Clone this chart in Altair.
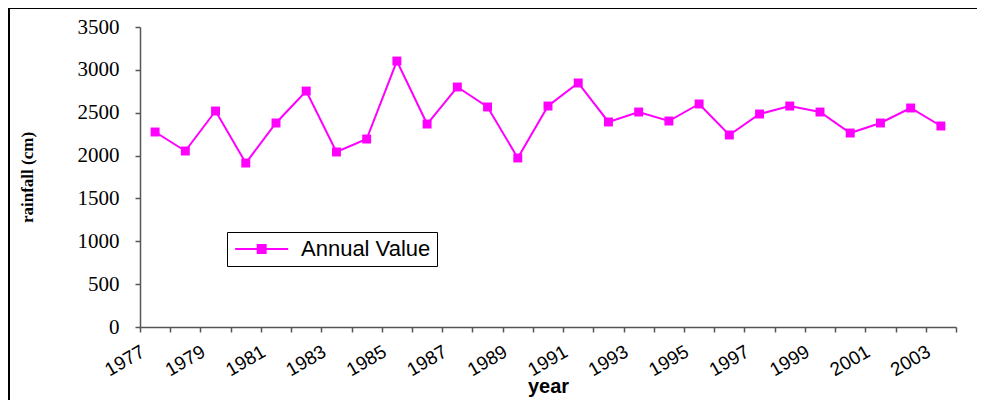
import altair as alt
import pandas as pd

years = [str(y) for y in range(1977, 2004)]
rainfall = [2275, 2053, 2520, 1913, 2380, 2753, 2042, 2193, 3103, 2368,
            2800, 2567, 1972, 2578, 2847, 2392, 2508, 2403, 2602, 2240,
            2485, 2578, 2508, 2263, 2380, 2555, 2345]
series = ["Annual Value"] * len(years)
y_ticks = [0, 500, 1000, 1500, 2000, 2500, 3000, 3500]

df = pd.DataFrame({"year": years, "rainfall": rainfall, "series": series})

W, H = 816, 300
MAGENTA = "#FF00FF"

x_enc = alt.X(
    "year:O",
    scale=alt.Scale(type="band", paddingInner=0, paddingOuter=0),
    axis=alt.Axis(
        title="year", titleFont="Liberation Sans", titleFontSize=20,
        titleFontWeight="bold", titleColor="black", titleY=65,
        titleBaseline="alphabetic",
        labelExpr="toNumber(datum.label) % 2 == 1 ? datum.label : ''",
        labelAngle=-30, labelAlign="right", labelBaseline="top",
        labelOffset=-17, labelPadding=10,
        labelFont="Liberation Sans", labelFontSize=19, labelColor="black",
        tickBand="extent", tickSize=5, tickColor="#555", domainColor="#555",
        domainWidth=1.5, tickWidth=1.5, grid=False,
    ),
)
y_enc = alt.Y(
    "rainfall:Q",
    scale=alt.Scale(domain=[0, 3500], nice=False),
    axis=alt.Axis(
        title="rainfall (cm)", titleFont="Liberation Serif", titleFontSize=17,
        titleFontWeight="bold", titleColor="black", titleX=-121,
        titleBaseline="top",
        values=y_ticks, format="d", labelFont="Liberation Serif",
        labelFontSize=21, labelColor="black", labelPadding=16, tickSize=5,
        tickColor="#555", domainColor="#555", domainWidth=1.5, tickWidth=1.5,
        grid=False,
    ),
)
color_enc = alt.Color(
    "series:N",
    scale=alt.Scale(domain=["Annual Value"], range=[MAGENTA]),
    legend=alt.Legend(
        title=None, orient="none", legendX=87, legendY=205,
        strokeColor="black", padding=6,
        symbolType="M-1,0H5M1.55,-0.45H2.45V0.45H1.55Z",
        symbolSize=312, symbolStrokeWidth=2, symbolFillColor=MAGENTA,
        symbolStrokeColor=MAGENTA, labelFont="Liberation Sans",
        labelFontSize=22, labelColor="black", labelOffset=46,
    ),
)

base = alt.Chart(df)
line = base.mark_line(strokeWidth=2).encode(x=x_enc, y=y_enc, color=color_enc)
pts = base.mark_point(shape="square", filled=True, size=80, opacity=1).encode(
    x=x_enc, y=y_enc, color=color_enc
)

frame = pd.DataFrame({"a": [0]})
top_border = alt.Chart(frame).mark_rule(color="black", strokeWidth=3).encode(
    x=alt.value(-131.5), x2=alt.value(W + 21), y=alt.value(-19.5)
)
left_border = alt.Chart(frame).mark_rule(color="black", strokeWidth=3).encode(
    x=alt.value(-131.5), y=alt.value(-19.5), y2=alt.value(H + 73)
)

chart = (
    alt.layer(line, pts, top_border, left_border)
    .properties(
        width=W, height=H,
        autosize=alt.AutoSizeParams(type="none"),
        padding={"left": 132, "top": 19, "right": 21, "bottom": 73},
        background="white",
    )
    .configure_view(stroke=None)
)

chart.save("out.html", embed_options={"renderer": "svg", "actions": False})
